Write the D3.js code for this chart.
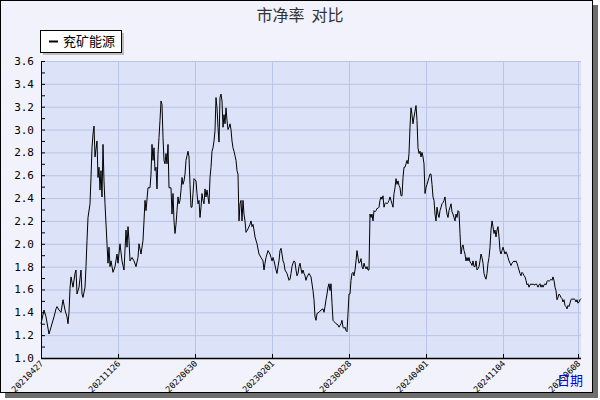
<!DOCTYPE html>
<html><head><meta charset="utf-8">
<script src="https://cdn.jsdelivr.net/npm/d3@7"></script>
<style>body{margin:0;background:#fff}</style>
</head><body><svg id="c" width="600" height="400"></svg>
<script>
const seriesName = "兖矿能源";
const dayIndex = [0,3,5,8,10,13,15,16,18,20,22,24,26,27,28,29,30,32,34,35,36,38,40,41,42,44,45,46,47,49,50,51,52,53,54,56,57,58,59,60,61,62,63,64,66,67,68,69,70,72,74,76,77,79,81,83,85,86,87,88,89,91,93,95,97,98,100,102,103,104,105,107,109,110,111,112,113,114,115,116,117,118,119,120,121,122,123,124,125,126,127,128,130,131,132,133,134,135,136,137,138,139,140,141,142,143,144,145,146,147,148,149,150,151,152,153,155,156,157,158,159,160,161,162,163,164,165,166,168,169,170,171,172,173,174,175,176,177,178,179,180,181,182,183,184,185,186,187,188,189,190,191,192,193,194,195,196,197,198,199,200,
201,202,203,204,205,207,209,210,211,212,213,214,216,218,220,222,223,224,225,226,227,229,230,231,232,233,235,236,237,238,239,240,241,242,243,244,246,247,248,249,250,251,252,253,254,255,256,257,258,259,260,261,262,263,264,265,266,268,270,272,273,274,275,276,278,280,282,283,284,285,286,287,288,289,290,291,292,293,295,297,298,300,301,302,303,304,305,306,307,308,309,310,311,312,313,314,315,316,317,318,319,320,321,322,323,324,325,326,327,328,329,330,331,332,333,334,335,336,337,338,339,340,341,342,343,344,345,346,347,348,349,350,351,352,353,354,355,356,357,358,359,360,361,362,363,364,365,366,367,368,369,370,
371,372,373,374,375,376,377,378,379,380,381,382,383,384,385,386,387,388,389,390,391,392,393,394,395,396,397,398,399,400,401,402,403,404,405,406,407,408,409,410,411,412,413,414,415,416,417,418,419,420,421,422,423,424,425,426,427,428,429,430,431,432,433,434,435,436,437,438,439,440,441,442,443,444,445,446,447,448,449,450,451,452,453,454,455,456,457,458,459,460,461,462,463,464,465,466,467,468,469,470,471,472,473,474,475,476,477,478,479,480,481,482,483,484,485,486,487,488,489,490,491,492,493,494,495,496,497,498,499,500,501,502,503,504,505,506,507,508,509,510,511,512,513,514,515,516,517,518,519,520,521,522,523,524,525,526,527,528,529,530,531,532,533,534,535,536,537,538,539,540];
const pbValues = [1.30,1.42,1.36,1.21,1.27,1.36,1.43,1.45,1.42,1.40,1.51,1.42,1.36,1.30,1.40,1.61,1.71,1.62,1.74,1.77,1.56,1.62,1.77,1.56,1.53,1.62,1.80,2.03,2.23,2.35,2.58,2.84,2.96,3.03,2.76,2.90,2.58,2.67,2.47,2.64,2.41,2.87,2.55,2.35,2.00,1.83,1.97,1.80,1.85,1.75,1.80,1.91,1.83,2.00,1.85,1.77,2.12,1.97,2.15,2.03,1.85,1.88,1.85,1.80,1.88,2.00,1.91,2.03,2.20,2.38,2.29,2.49,2.49,2.61,2.87,2.73,2.84,2.64,2.67,2.48,2.79,2.93,3.08,3.25,3.22,2.93,2.73,2.70,2.79,2.70,2.87,2.49,2.49,2.26,2.44,2.20,2.09,2.17,2.29,2.41,2.35,2.38,2.47,2.58,2.52,2.55,2.61,2.73,2.77,2.81,2.76,2.52,2.32,2.32,2.44,2.57,2.55,2.44,2.35,2.38,2.23,2.32,2.44,2.38,2.35,2.48,2.41,2.47,2.35,2.58,2.67,2.81,2.84,2.90,2.99,3.28,3.19,3.02,2.89,3.28,3.31,3.25,3.02,3.13,3.05,3.19,3.08,3.00,3.02,3.05,3.00,2.90,2.84,2.81,2.77,2.73,2.64,2.61,2.20,2.35,2.38,
2.20,2.38,2.26,2.20,2.10,2.13,2.17,2.20,2.15,2.17,2.12,2.06,2.00,1.91,1.88,1.85,1.77,1.83,1.88,1.91,1.94,1.91,1.88,1.85,1.88,1.85,1.77,1.74,1.80,1.85,1.94,1.96,1.91,1.85,1.83,1.77,1.74,1.71,1.68,1.69,1.74,1.80,1.83,1.85,1.84,1.77,1.72,1.74,1.80,1.83,1.78,1.74,1.77,1.74,1.72,1.68,1.71,1.74,1.71,1.59,1.51,1.36,1.33,1.39,1.40,1.42,1.43,1.40,1.45,1.51,1.56,1.62,1.65,1.59,1.65,1.48,1.33,1.32,1.30,1.29,1.27,1.30,1.33,1.27,1.26,1.27,1.24,1.23,1.39,1.56,1.56,1.68,1.74,1.75,1.72,1.77,1.85,1.94,1.88,1.83,1.84,1.87,1.80,1.78,1.83,1.80,1.78,1.80,1.77,1.77,2.26,2.23,2.26,2.20,2.29,2.28,2.29,2.31,2.31,2.32,2.38,2.41,2.39,2.42,2.32,2.35,2.36,2.35,2.36,2.38,2.41,2.38,2.35,2.32,2.44,2.49,2.57,2.52,2.55,2.51,2.49,2.42,2.42,2.58,2.67,2.67,2.70,2.73,2.70,2.79,3.02,3.19,
3.13,3.05,3.11,3.16,3.21,3.08,2.84,2.79,2.81,2.76,2.80,2.76,2.70,2.44,2.49,2.52,2.55,2.58,2.61,2.61,2.52,2.41,2.38,2.26,2.20,2.32,2.26,2.23,2.29,2.32,2.35,2.36,2.38,2.41,2.32,2.26,2.23,2.29,2.32,2.35,2.28,2.26,2.23,2.20,2.26,2.23,2.29,2.28,2.09,1.91,1.97,1.99,1.94,1.91,1.85,1.88,1.85,1.88,1.84,1.83,1.81,1.85,1.80,1.80,1.85,1.77,1.78,1.80,1.85,1.91,1.88,1.83,1.74,1.71,1.69,1.74,1.83,1.88,1.97,2.12,2.20,2.15,2.09,2.12,2.06,2.12,2.15,2.06,1.94,1.91,1.94,1.97,1.94,1.91,1.93,1.91,1.88,1.85,1.83,1.81,1.83,1.84,1.85,1.84,1.85,1.83,1.80,1.77,1.74,1.72,1.75,1.74,1.72,1.71,1.68,1.64,1.65,1.62,1.64,1.65,1.64,1.65,1.64,1.64,1.65,1.64,1.62,1.64,1.65,1.62,1.64,1.62,1.64,1.65,1.64,1.67,1.68,1.67,1.68,1.69,1.68,1.71,1.68,1.62,1.59,1.51,1.53,1.56,1.55,1.53,1.52,1.49,1.51,1.46,1.45,1.43,1.46,1.45,1.48,1.51,1.52,1.51,1.52,1.51,1.49,1.51,1.48,1.49,1.51,1.52];
const xTickIdx = [0,77,154,231,308,385,462,537];
const xTickLabels = ["20210427","20211126","20220630","20230201","20230828","20240401","20241104","20250608"];
const yTicks = [1.0,1.2,1.4,1.6,1.8,2.0,2.2,2.4,2.6,2.8,3.0,3.2,3.4,3.6];

const svg = d3.select("#c");
const font = "'DejaVu Sans Mono', monospace";
svg.append("rect").attr("x",5).attr("y",5).attr("width",593).attr("height",393).attr("fill","#6e6e6e");
svg.append("rect").attr("x",0.5).attr("y",0.5).attr("width",592).attr("height",392).attr("fill","#f1f2fb").attr("stroke","#000");

const L=41,R=581,T=61,B=358;
const x = d3.scaleLinear().domain([0,540]).range([L,R]);
const y = d3.scaleLinear().domain([1.0,3.6]).range([B,T]);

svg.append("rect").attr("x",L).attr("y",T).attr("width",R-L).attr("height",B-T).attr("fill","#dce2f7");
svg.append("g").selectAll("line").data(yTicks).join("line")
  .attr("x1",L).attr("x2",R).attr("y1",d=>y(d)+0.5).attr("y2",d=>y(d)+0.5).attr("stroke","#b9c4e6");
svg.append("g").selectAll("line").data(xTickIdx).join("line")
  .attr("x1",d=>Math.round(x(d))+0.5).attr("x2",d=>Math.round(x(d))+0.5).attr("y1",T).attr("y2",B).attr("stroke","#b9c4e6");

const yAx = svg.append("g").attr("transform",`translate(${L},0)`)
  .call(d3.axisRight(y).tickValues(d3.range(10,37).map(v=>v/10)).tickSize(4).tickFormat(""));
yAx.select(".domain").remove();
yAx.selectAll("line").attr("stroke","#000");
svg.append("g").selectAll("text").data(yTicks).join("text")
  .attr("x",L-7).attr("y",d=>y(d)+4).attr("text-anchor","end")
  .attr("font-family",font).attr("font-size",11).attr("fill","#000").text(d=>d.toFixed(1));
svg.append("line").attr("x1",L+0.5).attr("x2",L+0.5).attr("y1",T).attr("y2",B).attr("stroke","#000");
const xAx = svg.append("g").attr("transform",`translate(0,${B})`)
  .call(d3.axisTop(x).tickValues(xTickIdx).tickSize(4).tickFormat(""));
xAx.select(".domain").remove();
xAx.selectAll("line").attr("stroke","#000");
svg.append("line").attr("x1",L).attr("x2",R).attr("y1",B+0.5).attr("y2",B+0.5).attr("stroke","#000").attr("stroke-width",1.5);
svg.append("g").selectAll("text").data(xTickIdx).join("text")
  .attr("transform",(d)=>`translate(${x(d)+3},${B+6}) rotate(-45)`)
  .attr("text-anchor","end").attr("font-family",font).attr("font-size",8.5).attr("fill","#000")
  .text((d,i)=>xTickLabels[i]);

const pts = dayIndex.map((d,i)=>[d,pbValues[i]]);
svg.append("path").datum(pts).attr("fill","none").attr("stroke","#000").attr("stroke-width",1)
  .attr("d",d3.line().x(d=>x(d[0])).y(d=>y(d[1])));

svg.append("text").attr("x",300).attr("y",21).attr("text-anchor","middle").style("white-space","pre")
  .attr("font-family","'Noto Sans CJK SC'").attr("font-size",16).attr("fill","#333").text("市净率  对比");
svg.append("rect").attr("x",43).attr("y",33).attr("width",81).attr("height",22).attr("fill","#bdbdbd");
svg.append("rect").attr("x",40.5).attr("y",30.5).attr("width",81).attr("height",22).attr("fill","#fff").attr("stroke","#000");
svg.append("line").attr("x1",49).attr("x2",58).attr("y1",41.5).attr("y2",41.5).attr("stroke","#000").attr("stroke-width",2);
svg.append("text").attr("x",63).attr("y",46).attr("font-family","'Noto Sans CJK SC'").attr("font-size",13).attr("fill","#000").text(seriesName);
svg.append("text").attr("x",557).attr("y",385).attr("font-family","'Noto Sans CJK SC'").attr("font-size",13).attr("fill","#0000ee").text("日期");
</script></body></html>
